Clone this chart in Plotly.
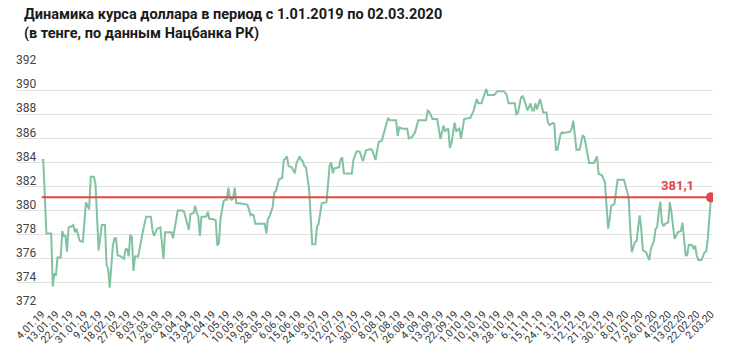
import plotly.graph_objects as go

# Day offsets from 4.01.2019 and USD/KZT rate at the line's vertices
day = [0, 1, 3, 6, 7, 8, 9, 10, 12, 13, 14, 15, 16, 17, 19, 20, 21, 22, 24, 26,
       28, 29, 30, 31, 33, 34, 36, 38, 40, 41, 42, 43, 45, 46, 47, 48, 50, 52, 53, 54,
       55, 56, 57, 58, 59, 61, 63, 64, 66, 69, 70, 71, 73, 75, 77, 78, 82, 83, 86, 89,
       90, 92, 93, 94, 96, 97, 98, 99, 100, 101, 104, 105, 106, 108, 110, 111, 112, 113, 115, 116,
       117, 118, 119, 120, 121, 122, 123, 125, 130, 131, 132, 133, 134, 135, 140,
       141, 142, 143, 144, 146, 147, 148, 150, 152, 153, 154, 155, 156, 158, 160, 161, 163, 164, 165,
       166, 167, 169, 170, 171, 173, 174, 175, 176, 177, 180, 182, 183, 184, 185, 188, 189, 190, 191,
       195, 196, 197, 199, 201, 203, 205, 208, 209, 211, 213, 215, 217, 219, 220, 224, 225, 226, 228,
       231, 232, 234, 236, 238, 243, 244, 245, 247, 250, 251, 252, 254, 255, 257, 258, 259, 261, 262,
       264, 265, 267, 271, 273, 275, 276,
       278, 280, 281, 282, 286, 288, 292, 294, 295, 299, 300, 301, 303, 304, 305, 307, 308, 309, 310,
       311, 312, 313, 315, 316, 317, 319, 320, 321, 323, 324, 325, 326, 328, 329, 330, 334, 335, 336,
       337, 338, 340, 341, 342, 343, 345, 346, 349, 350, 351, 352, 354, 356, 357, 358, 359, 360, 362,
       364, 368, 370, 371, 372, 373, 375, 376, 377, 378, 379, 380, 382, 384, 385, 387, 388, 389, 390,
       391, 392, 393, 394, 396, 397, 398, 400, 402, 404, 405, 407, 408, 409, 411, 412, 413, 414, 415,
       417, 419, 420, 421, 423]
rate = [384.2, 384.2, 378.1, 378.1, 373.7, 374.8, 374.6, 376.1, 376.1, 378.3, 377.9, 377.9, 376.6, 378.6, 378.7, 378.8, 378.2, 378.5, 377.5, 377.4,
        380.7, 380.4, 380.1, 382.8, 382.8, 382.2, 376.7, 378.8, 378.8, 375.5, 375.2, 373.6, 377.1, 377.7, 377.7, 376.3, 376.2, 376.0, 376.8, 376.8,
        376.2, 378.0, 377.8, 375.0, 376.2, 376.2, 377.8, 378.3, 379.5, 379.5, 378.4, 377.9, 378.5, 378.6, 376.0, 378.2, 378.2, 377.7, 380.0, 380.0,
        379.9, 379.0, 378.4, 379.7, 379.8, 380.4, 379.8, 379.5, 377.9, 379.5, 379.5, 379.9, 379.3, 379.3, 379.2, 377.1, 377.3, 379.3, 380.8, 380.9,
        380.9, 381.9, 381.0, 380.9, 381.0, 381.9, 380.6, 380.6, 380.5, 380.1, 379.6, 379.7, 379.6, 378.9, 378.9,
        378.9, 378.1, 379.3, 379.5, 380.3, 381.5, 381.6, 382.6, 382.7, 384.2, 384.3, 384.5, 383.7, 383.6, 383.1, 383.9, 384.5, 384.2, 384.1,
        383.7, 383.6, 381.8, 378.8, 377.2, 377.2, 378.65, 378.9, 379.75, 380.6, 380.7, 383.75, 384.0, 383.1, 383.5, 383.6, 384.3, 384.35, 383.1,
        383.1, 383.06, 384.2, 384.9, 384.9, 384.1, 385.0, 385.1, 385.0, 384.2, 385.7, 385.8, 386.8, 387.7, 387.5, 387.5, 386.2, 386.9, 386.8,
        386.8, 386.0, 386.1, 386.5, 387.5, 387.5, 388.3, 388.2, 387.6, 387.6, 386.6, 385.95, 387.05, 386.6, 386.8, 385.2, 385.6, 387.3, 386.6,
        386.8, 385.95, 387.6, 387.7, 388.3, 389.26, 388.9,
        388.9, 389.7, 390.1, 389.6, 389.6, 389.9, 389.9, 389.6, 388.9, 388.9, 388.0, 388.1, 389.4, 389.5, 389.2, 388.3, 388.6, 388.9, 388.3,
        388.3, 388.9, 388.4, 389.25, 388.75, 388.15, 388.15, 387.3, 387.1, 387.27, 387.2, 385.05, 385.05, 386.35, 386.5, 386.45, 386.55, 386.8, 387.46,
        386.35, 385.05, 385.05, 385.7, 386.27, 386.1, 384.7, 383.95, 383.95, 384.3, 384.5, 383.04, 382.95, 382.35, 380.4, 378.5, 379.3, 380.4, 380.55,
        382.57, 382.57, 381.4, 381.1, 378.5, 376.55, 377.4, 377.45, 378.6, 379.6, 378.4, 376.7, 376.55, 375.9, 376.8, 377.5, 378.5, 378.6, 379.9,
        380.75, 379.0, 378.7, 378.9, 379.0, 380.7, 379.9, 377.65, 378.2, 378.3, 379.0, 376.3, 376.3, 377.15, 377.15, 376.8, 377.1, 376.3, 375.9,
        375.9, 376.55, 376.6, 377.65, 381.1]

current_value = 381.1
current_label = "381,1"

tick_labels = ["4.01.19", "13.01.19", "22.01.19", "31.01.19", "9.02.19", "18.02.19", "27.02.19", "8.03.19",
               "17.03.19", "26.03.19", "4.04.19", "13.04.19", "22.04.19", "1.05.19", "10.05.19", "19.05.19",
               "28.05.19", "6.06.19", "15.06.19", "24.06.19", "3.07.19", "12.07.19", "21.07.19", "30.07.19",
               "8.08.19", "17.08.19", "26.08.19", "4.09.19", "13.09.19", "22.09.19", "1.010.19", "10.10.19",
               "19.10.19", "28.10.19", "6.11.19", "15.11.19", "24.11.19", "3.12.19", "12.12.19", "21.12.19",
               "30.12.19", "8.01.20", "17.01.20", "26.01.20", "4.02.20", "13.02.20", "22.02.20", "2.03.20"]
tick_days = [i * 9 for i in range(len(tick_labels))]

title_line1 = "Динамика курса доллара в период с 1.01.2019 по 02.03.2020"
title_line2 = "(в тенге, по данным Нацбанка РК)"

GREEN = "#82c2a0"
RED = "#e0474c"
TITLE_FONT = dict(family="Roboto", size=14.5, color="#1a1a1a")

fig = go.Figure()
fig.add_trace(go.Scatter(x=day, y=rate, mode="lines",
                         line=dict(color=GREEN, width=2), hoverinfo="skip"))
fig.add_trace(go.Scatter(x=[day[0], day[-1]], y=[current_value, current_value], mode="lines",
                         line=dict(color=RED, width=2), hoverinfo="skip"))
fig.add_trace(go.Scatter(x=[day[-1]], y=[current_value], mode="markers",
                         marker=dict(color=RED, size=10), hoverinfo="skip"))

fig.add_annotation(x=day[-1], y=current_value, text="<b>" + current_label + "</b>",
                   showarrow=False, xanchor="right", yanchor="middle", xshift=-15, yshift=12,
                   font=dict(family="Roboto", size=13, color=RED))
fig.add_annotation(xref="paper", yref="paper", x=0, y=1, text="<b>" + title_line1 + "</b>",
                   showarrow=False, xanchor="left", yanchor="middle", xshift=5, yshift=51.5,
                   font=TITLE_FONT)
fig.add_annotation(xref="paper", yref="paper", x=0, y=1, text="<b>" + title_line2 + "</b>",
                   showarrow=False, xanchor="left", yanchor="middle", xshift=5, yshift=32.5,
                   font=TITLE_FONT)

fig.update_layout(
    width=730, height=356,
    margin=dict(l=17, r=17, t=66, b=48.5),
    paper_bgcolor="white", plot_bgcolor="white",
    showlegend=False,
    font=dict(family="Roboto", color="#333333"),
)
fig.update_xaxes(range=[-15.6, 424.3], tickmode="array", tickvals=tick_days, ticktext=tick_labels,
                 tickangle=-45, showgrid=False, zeroline=False, showline=False, ticks="",
                 automargin=False, ticklabelstandoff=-2,
                 tickfont=dict(family="Roboto", size=10.5, color="#333333"))
fig.update_yaxes(range=[372, 392], dtick=2, tick0=372, showgrid=True, gridcolor="#e0e0e0", gridwidth=1,
                 zeroline=False, showline=False, ticks="", ticklabelposition="inside",
                 ticklabelshift=-6, ticklabelstandoff=-4, ticklabeloverflow="allow",
                 automargin=False,
                 tickfont=dict(family="Roboto", size=12, color="#444444"))

# remove the browser's default 8px page margin so the 730x356 figure fills the window exactly
fig.write_html("out.html", config={"displayModeBar": False},
               post_script="document.body.style.margin='0';")
